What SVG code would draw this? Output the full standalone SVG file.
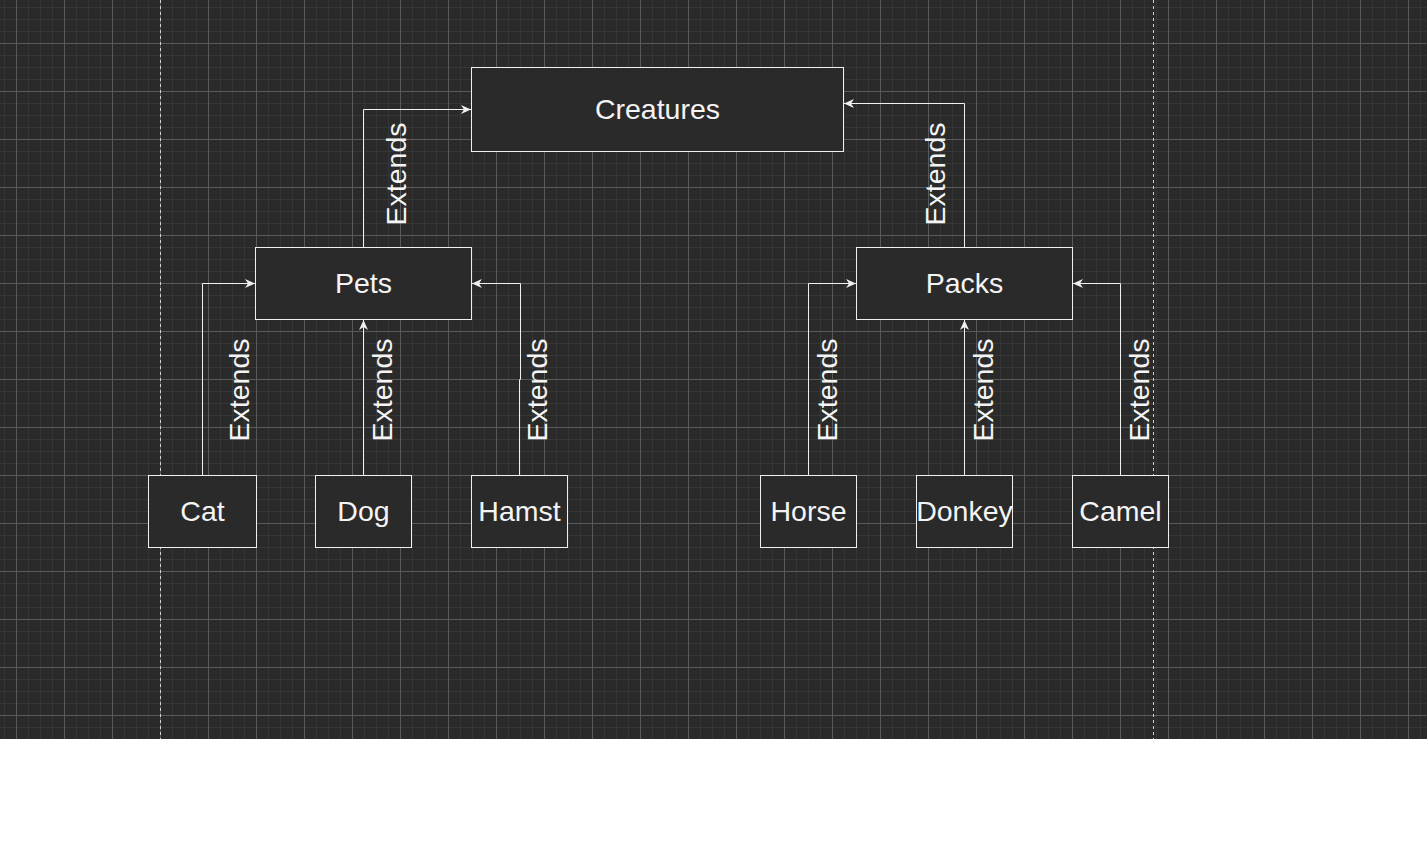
<svg xmlns="http://www.w3.org/2000/svg" width="1427" height="842" viewBox="0 0 1427 842">
<style>
.box{fill:#2a2a2a;stroke:#f0f0f0;stroke-width:1}
.lbl{font-family:"Liberation Sans",Arial,sans-serif;font-size:28.5px;fill:#f4f4f4;text-anchor:middle}
.edge{fill:none;stroke:#f0f0f0;stroke-width:1;marker-end:url(#arr)}
.guide{stroke:#d0d0d0;stroke-width:1;stroke-dasharray:3 3}
</style>
<defs>
<pattern id="grid" patternUnits="userSpaceOnUse" x="16" y="43" width="48" height="48">
<rect width="48" height="48" fill="#2a2a2a"/>
<rect x="12" y="0" width="1" height="48" fill="#363636"/>
<rect x="24" y="0" width="1" height="48" fill="#363636"/>
<rect x="36" y="0" width="1" height="48" fill="#363636"/>
<rect x="0" y="12" width="48" height="1" fill="#363636"/>
<rect x="0" y="24" width="48" height="1" fill="#363636"/>
<rect x="0" y="36" width="48" height="1" fill="#363636"/>
<rect x="0" y="0" width="1" height="48" fill="#5a5a5a"/>
<rect x="0" y="0" width="48" height="1" fill="#5a5a5a"/>
</pattern>
<marker id="arr" markerUnits="userSpaceOnUse" viewBox="0 0 10 10" refX="10" refY="5" markerWidth="10" markerHeight="10" orient="auto">
<path d="M0,0.5 L10,5 L0,9.5 L3,5 Z" fill="#f0f0f0"/>
</marker>
</defs>
<rect x="0" y="0" width="1427" height="842" fill="#ffffff"/>
<rect x="0" y="0" width="1427" height="739" fill="url(#grid)"/>
<line class="guide" x1="160.5" y1="0" x2="160.5" y2="739"/>
<line class="guide" x1="1153.5" y1="0" x2="1153.5" y2="739"/>

<g id="connectors">
<path class="edge" d="M202.5,475 V283.5 H255"/>
<path class="edge" d="M363.5,475 V320"/>
<path class="edge" d="M519.5,475 V379.5 H520.5 V283.5 H472"/>
<path class="edge" d="M363.5,247 V109.5 H471"/>
<path class="edge" d="M964.5,247 V103.5 H844"/>
<path class="edge" d="M808.5,475 V283.5 H856"/>
<path class="edge" d="M964.5,475 V320"/>
<path class="edge" d="M1120.5,475 V283.5 H1073"/>
<text class="lbl" transform="translate(406,174) rotate(-90)">Extends</text>
<text class="lbl" transform="translate(945,174) rotate(-90)">Extends</text>
<text class="lbl" transform="translate(249,390) rotate(-90)">Extends</text>
<text class="lbl" transform="translate(392,390) rotate(-90)">Extends</text>
<text class="lbl" transform="translate(547,390) rotate(-90)">Extends</text>
<text class="lbl" transform="translate(837,390) rotate(-90)">Extends</text>
<text class="lbl" transform="translate(993,390) rotate(-90)">Extends</text>
<text class="lbl" transform="translate(1149,390) rotate(-90)">Extends</text>
</g>

<g id="creatures"><rect class="box" x="471.5" y="67.5" width="372" height="84"/><text class="lbl" x="657.5" y="119">Creatures</text></g>
<g id="pets"><rect class="box" x="255.5" y="247.5" width="216" height="72"/><text class="lbl" x="363.5" y="293">Pets</text></g>
<g id="packs"><rect class="box" x="856.5" y="247.5" width="216" height="72"/><text class="lbl" x="964.5" y="293">Packs</text></g>
<g id="cat"><rect class="box" x="148.5" y="475.5" width="108" height="72"/><text class="lbl" x="202.5" y="521">Cat</text></g>
<g id="dog"><rect class="box" x="315.5" y="475.5" width="96" height="72"/><text class="lbl" x="363.5" y="521">Dog</text></g>
<g id="hamst"><rect class="box" x="471.5" y="475.5" width="96" height="72"/><text class="lbl" x="519.5" y="521">Hamst</text></g>
<g id="horse"><rect class="box" x="760.5" y="475.5" width="96" height="72"/><text class="lbl" x="808.5" y="521">Horse</text></g>
<g id="donkey"><rect class="box" x="916.5" y="475.5" width="96" height="72"/><text class="lbl" x="964.5" y="521">Donkey</text></g>
<g id="camel"><rect class="box" x="1072.5" y="475.5" width="96" height="72"/><text class="lbl" x="1120.5" y="521">Camel</text></g>
</svg>
